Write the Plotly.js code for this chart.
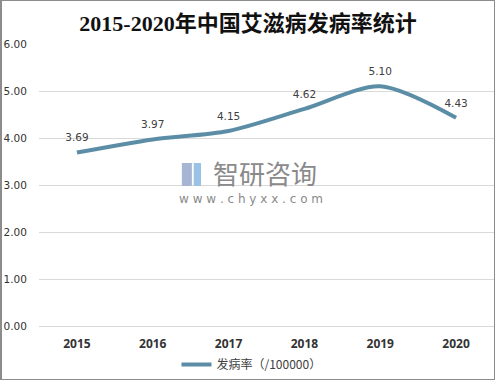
<!DOCTYPE html>
<html>
<head>
<meta charset="utf-8">
<script src="https://cdn.plot.ly/plotly-3.0.1.min.js"></script>
<style>
html,body{margin:0;padding:0;background:#fff;}
#wrap{width:495px;height:380px;box-sizing:border-box;border:1px solid #8c8c8c;border-left:2px solid #8c8c8c;}
#chart{width:492px;height:378px;}
</style>
</head>
<body>
<div id="wrap"><div id="chart"></div></div>
<script>
var years = ["2015","2016","2017","2018","2019","2020"];
var rates = [3.69, 3.97, 4.15, 4.62, 5.10, 4.43];
var seriesName = "发病率（/100000）";
var yTicks = [0,1,2,3,4,5,6];
var yTickText = ["0.00","1.00","2.00","3.00","4.00","5.00","6.00"];

var trace = {
  x: years,
  y: rates,
  type: "scatter",
  mode: "lines+markers+text",
  name: seriesName,
  line: {color: "#5b8ea6", width: 4, shape: "spline", smoothing: 0.8},
  marker: {size: 12, color: "rgba(0,0,0,0)"},
  text: rates.map(function(v){return v.toFixed(2);}),
  textposition: "top center",
  textfont: {family: "DejaVu Sans, sans-serif", size: 10.5, color: "#404040"},
  hoverinfo: "x+y"
};

var layout = {
  width: 492,
  height: 378,
  margin: {l: 37, r: 0, t: 43, b: 46},
  paper_bgcolor: "#ffffff",
  plot_bgcolor: "#ffffff",
  title: {
    text: "<b>2015-2020年中国艾滋病发病率统计</b>",
    font: {family: "Liberation Serif, Noto Sans CJK SC, serif", size: 22, color: "#111111"},
    x: 0.5, xanchor: "center", y: 0.942, yanchor: "middle"
  },
  xaxis: {
    type: "category",
    range: [-0.5, 5.5],
    showgrid: false,
    zeroline: false,
    showline: false,
    ticks: "outside",
    ticklen: 7,
    tickcolor: "rgba(0,0,0,0)",
    tickfont: {family: "Open Sans, sans-serif", size: 12, color: "#333333", weight: "bold"},
    fixedrange: true
  },
  yaxis: {
    range: [0, 6],
    tickvals: yTicks,
    ticktext: yTickText,
    showgrid: true,
    gridcolor: "#d9d9d9",
    gridwidth: 1,
    zeroline: true,
    zerolinecolor: "#d9d9d9",
    zerolinewidth: 1,
    showline: false,
    ticks: "outside",
    ticklen: 9,
    tickcolor: "rgba(0,0,0,0)",
    tickfont: {family: "DejaVu Sans, sans-serif", size: 10.5, color: "#333333"},
    fixedrange: true
  },
  showlegend: true,
  legend: {
    orientation: "h",
    x: 0.467, xanchor: "center",
    y: -0.085, yanchor: "top",
    font: {family: "Noto Sans CJK SC, sans-serif", size: 12, color: "#404040"},
    itemwidth: 30
  },
  annotations: [
    {xref: "paper", yref: "paper", x: 0.5, y: 0.545, xanchor: "center", yanchor: "middle",
     text: "智研咨询", showarrow: false,
     font: {family: "Noto Sans CJK SC, sans-serif", size: 26, color: "#8a8a8a"}, xshift: -2},
    {xref: "paper", yref: "paper", x: 0.5, y: 0.45, xanchor: "center", yanchor: "middle",
     text: "w w w . c h y x x . c o m", showarrow: false,
     font: {family: "DejaVu Sans, sans-serif", size: 12, color: "#8a8a8a"}, xshift: -16}
  ],
  shapes: [
    {type: "rect", xref: "paper", yref: "paper", x0: 0.314, x1: 0.336, y0: 0.497, y1: 0.578,
     line: {width: 0}, fillcolor: "#8fa3c8", opacity: 0.8},
    {type: "rect", xref: "paper", yref: "paper", x0: 0.34, x1: 0.356, y0: 0.497, y1: 0.578,
     line: {width: 0}, fillcolor: "#7fb3e0", opacity: 0.8}
  ]
};

Plotly.newPlot("chart", [trace], layout, {displayModeBar: false, staticPlot: true});
</script>
</body>
</html>
